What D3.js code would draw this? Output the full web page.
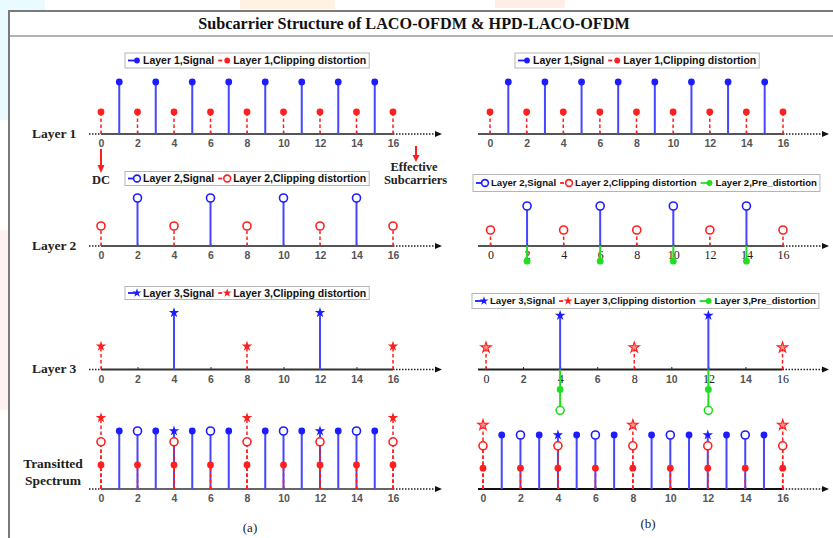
<!DOCTYPE html>
<html>
<head>
<meta charset="utf-8">
<script src="https://cdn.jsdelivr.net/npm/d3@7"></script>
<style>
  body { margin: 0; background: #fff; }
  svg { display: block; }
</style>
</head>
<body>
<svg id="chart" width="833" height="538"></svg>
<script>
// Subcarrier index ticks shown under every axis
const tickValues = [0, 2, 4, 6, 8, 10, 12, 14, 16];

// Subcarriers occupied by each layer
const layer1SignalIdx = [1, 3, 5, 7, 9, 11, 13, 15];
const layer1ClipIdx   = [0, 2, 4, 6, 8, 10, 12, 14, 16];
const layer2SignalIdx = [2, 6, 10, 14];
const layer2ClipIdx   = [0, 4, 8, 12, 16];
const layer3SignalIdx = [4, 12];
const layer3ClipIdx   = [0, 8, 16];

// LACO-OFDM amplitudes (arbitrary units), layers 1..3
const lacoSignalAmp = [6.5, 6.0, 7.1];
const lacoClipAmp   = [2.75, 2.5, 2.9];
// LACO-OFDM transmitted spectrum: common signal height, clipping height per layer
const lacoSpectrumSignal = 7.25;
const lacoSpectrumClip   = [3.0, 5.9, 8.9];

// HPD-LACO-OFDM amplitudes, layers 1..3
const hpdSignalAmp = [6.5, 5.0, 6.75];
const hpdClipAmp   = [2.75, 2.0, 2.75];
// pre-distortion (negative = below the axis) for layers 2 and 3
const hpdPreAmp = [-1.9, -2.5];
const hpdLayer3PreEnd = -5.1;
const hpdSpectrumSignal = 6.75;
const hpdSpectrumClip   = [2.6, 5.4, 8.0];

const layerNames = ["Layer 1", "Layer 2", "Layer 3"];
const rowLabels = [["Layer 1"], ["Layer 2"], ["Layer 3"], ["Transitted", "Spectrum"]];
const titleText = "Subcarrier Structure of LACO-OFDM & HPD-LACO-OFDM";

const BLUE = "#1c1cff", BLUE_STEM = "#4646ff", RED = "#ff1f1f", GREEN = "#22dd22";
const SANS = "'Liberation Sans', Arial, sans-serif";
const SERIF = "'Liberation Serif', 'Times New Roman', serif";

const svg = d3.select("#chart");
svg.append("rect").attr("width", 833).attr("height", 538).attr("fill", "#fff");

// faint background tint around the frame
[[0, 0, 45, 10, "#e9fbff"], [0, 10, 8, 110, "#eafbff"], [240, 0, 95, 9, "#fff2e4"],
 [495, 0, 70, 8, "#ffeee6"], [0, 230, 8, 180, "#fff0f2"]].forEach(([x, y, w, h, c]) =>
  svg.append("rect").attr("x", x).attr("y", y).attr("width", w).attr("height", h).attr("fill", c));

// frame and title bar
svg.append("line").attr("x1", 9).attr("x2", 833).attr("y1", 11).attr("y2", 11)
  .attr("stroke", "#7a7a7a").attr("stroke-width", 2);
svg.append("line").attr("x1", 9).attr("x2", 833).attr("y1", 36).attr("y2", 36)
  .attr("stroke", "#9a9a9a").attr("stroke-width", 1.5);
svg.append("line").attr("x1", 9).attr("x2", 9).attr("y1", 10).attr("y2", 538)
  .attr("stroke", "#7a7a7a").attr("stroke-width", 2);
svg.append("text").attr("x", 414).attr("y", 23.5).attr("dy", "0.35em")
  .attr("text-anchor", "middle").attr("font-family", SERIF).attr("font-weight", "bold")
  .attr("font-size", 16.2).attr("fill", "#111").text(titleText);

// ---------- helpers ----------
function marker(g, type, x, y, color, small) {
  const k = small ? 0.85 : 1;
  if (type === "dot") {
    g.append("circle").attr("cx", x).attr("cy", y).attr("r", 3.4 * k).attr("fill", color);
  } else if (type === "ring") {
    g.append("circle").attr("cx", x).attr("cy", y).attr("r", 4 * k)
      .attr("fill", "#fff").attr("stroke", color).attr("stroke-width", 1.6);
  } else if (type === "star") {
    g.append("path").attr("d", d3.symbol(d3.symbolStar, 34 * k * k)())
      .attr("transform", `translate(${x},${y})`).attr("fill", color);
  } else if (type === "starOpen") {
    g.append("path").attr("d", d3.symbol(d3.symbolStar, 34 * k * k)())
      .attr("transform", `translate(${x},${y})`).attr("fill", "#ff8a8a")
      .attr("stroke", color).attr("stroke-width", 1.1);
  }
}

function stem(g, x, y, i, amp, color, dashed, from) {
  g.append("line").attr("x1", x(i)).attr("x2", x(i))
    .attr("y1", y(from || 0)).attr("y2", y(amp))
    .attr("stroke", color).attr("stroke-width", dashed ? 1.5 : 2)
    .attr("stroke-dasharray", dashed ? "3.5,2.5" : null);
}

function arrowHead(g, tipX, tipY, dir, color, len, half) {
  const p = dir === "right"
    ? [[tipX, tipY], [tipX - len, tipY - half], [tipX - len, tipY + half]]
    : [[tipX, tipY], [tipX - half, tipY - len], [tipX + half, tipY - len]];
  g.append("path").attr("d", d3.line()(p) + "Z").attr("fill", color);
}

function drawAxis(g, x, axisY, side, axisColor, labelFont) {
  if (side === "left") {
    g.append("line").attr("x1", x(0) - 12).attr("x2", x(0)).attr("y1", axisY).attr("y2", axisY)
      .attr("stroke", "#222").attr("stroke-width", 1.3).attr("stroke-dasharray", "1.5,1.5");
    g.append("line").attr("x1", x(0)).attr("x2", x(16)).attr("y1", axisY).attr("y2", axisY)
      .attr("stroke", axisColor).attr("stroke-width", 2.2);
    g.append("line").attr("x1", x(16)).attr("x2", 435).attr("y1", axisY).attr("y2", axisY)
      .attr("stroke", "#222").attr("stroke-width", 1.3).attr("stroke-dasharray", "1.5,1.5");
    arrowHead(g, 442, axisY, "right", "#111", 7, 3);
  } else {
    g.append("line").attr("x1", 478).attr("x2", x(16)).attr("y1", axisY).attr("y2", axisY)
      .attr("stroke", axisColor).attr("stroke-width", 2.2);
    g.append("line").attr("x1", x(16)).attr("x2", 822).attr("y1", axisY).attr("y2", axisY)
      .attr("stroke", "#222").attr("stroke-width", 1.3).attr("stroke-dasharray", "1.5,1.5");
    arrowHead(g, 829, axisY, "right", "#111", 7, 3);
  }
  const ax = g.append("g").attr("transform", `translate(0,${axisY})`)
    .call(d3.axisBottom(x).tickValues(tickValues).tickSizeInner(-2.5).tickSizeOuter(0).tickPadding(6));
  ax.select(".domain").remove();
  ax.selectAll(".tick line").attr("stroke", axisColor).attr("stroke-width", 1);
  ax.selectAll(".tick text").each(function (d) {
    const f = labelFont(d);
    d3.select(this).attr("font-family", f.serif ? SERIF : SANS)
      .attr("font-weight", f.serif ? "normal" : "bold")
      .attr("font-size", f.serif ? 12 : 10.5)
      .attr("fill", f.serif ? "#222" : "#555")
      .attr("dy", f.serif ? "0.62em" : "0.71em");
  });
}

function legend(x0, cy, h, fontSize, entries) {
  const g = svg.append("g");
  const box = g.append("rect").attr("fill", "#fff").attr("stroke", "#b5b5b5").attr("stroke-width", 1);
  let cx = x0 + 3;
  entries.forEach(e => {
    g.append("line").attr("x1", cx).attr("x2", cx + (e.dashed ? 4 : 9)).attr("y1", cy).attr("y2", cy)
      .attr("stroke", e.color).attr("stroke-width", 1.8);
    marker(g, e.marker, cx + 9, cy, e.color, true);
    const t = g.append("text").attr("x", cx + 15).attr("y", cy).attr("dy", "0.35em")
      .attr("font-family", SANS).attr("font-weight", "bold").attr("font-size", fontSize)
      .attr("fill", "#111").text(e.label);
    cx += 15 + t.node().getComputedTextLength() + 4;
  });
  box.attr("x", x0).attr("y", cy - h / 2).attr("width", cx - x0 - 1).attr("height", h);
}

const sansAll = () => ({ serif: false });
const serifAll = () => ({ serif: true });
const serifMultiplesOf4 = d => ({ serif: d % 4 === 0 });

// row baselines
const rowY = [134, 246, 369.5, 489];
const yFor = axisY => d3.scaleLinear().domain([0, 10]).range([axisY, axisY - 80]);
const xFor = (a, b) => d3.scaleLinear().domain([0, 16]).range([a, b]);

// ---------- row labels ----------
rowLabels.forEach((lines, r) => {
  const cy = r < 3 ? rowY[r] - 1 : 463;
  lines.forEach((s, j) => {
    svg.append("text").attr("x", r < 3 ? 32 : 53).attr("y", cy + j * 17.5).attr("dy", "0.35em")
      .attr("text-anchor", r < 3 ? "start" : "middle")
      .attr("font-family", SERIF).attr("font-weight", "bold").attr("font-size", 13.5)
      .attr("fill", "#222").text(s);
  });
});

// ---------- (a) LACO-OFDM ----------
const markerOfLayer = ["dot", "ring", "star"];
const signalIdx = [layer1SignalIdx, layer2SignalIdx, layer3SignalIdx];
const clipIdx = [layer1ClipIdx, layer2ClipIdx, layer3ClipIdx];

[0, 1, 2].forEach(l => {
  const g = svg.append("g");
  const x = xFor(101, 393), y = yFor(rowY[l]);
  drawAxis(g, x, rowY[l], "left", l === 2 ? "#333" : "#555", sansAll);
  signalIdx[l].forEach(i => stem(g, x, y, i, lacoSignalAmp[l], BLUE_STEM, false));
  clipIdx[l].forEach(i => stem(g, x, y, i, lacoClipAmp[l], RED, true));
  signalIdx[l].forEach(i => marker(g, markerOfLayer[l], x(i), y(lacoSignalAmp[l]), BLUE));
  clipIdx[l].forEach(i => marker(g, markerOfLayer[l], x(i), y(lacoClipAmp[l]), RED));
});

// transmitted spectrum (a)
(function () {
  const g = svg.append("g");
  const x = xFor(101, 393), y = yFor(rowY[3]);
  drawAxis(g, x, rowY[3], "left", "#666", sansAll);
  signalIdx.forEach(idx => idx.forEach(i => stem(g, x, y, i, lacoSpectrumSignal, BLUE_STEM, false)));
  [2, 1, 0].forEach(l => clipIdx[l].forEach(i => stem(g, x, y, i, lacoSpectrumClip[l], RED, true)));
  signalIdx.forEach((idx, l) => idx.forEach(i => marker(g, markerOfLayer[l], x(i), y(lacoSpectrumSignal), BLUE)));
  clipIdx.forEach((idx, l) => idx.forEach(i => marker(g, markerOfLayer[l], x(i), y(lacoSpectrumClip[l]), RED)));
})();

// DC and effective-subcarrier pointers
(function () {
  const g = svg.append("g");
  g.append("line").attr("x1", 101).attr("x2", 101).attr("y1", 149).attr("y2", 166)
    .attr("stroke", RED).attr("stroke-width", 2);
  arrowHead(g, 101, 173, "down", RED, 8, 3.5);
  g.append("text").attr("x", 101).attr("y", 179.5).attr("dy", "0.35em").attr("text-anchor", "middle")
    .attr("font-family", SERIF).attr("font-weight", "bold").attr("font-size", 12.5).attr("fill", "#222").text("DC");
  g.append("line").attr("x1", 416).attr("x2", 416).attr("y1", 146).attr("y2", 156)
    .attr("stroke", RED).attr("stroke-width", 2);
  arrowHead(g, 416, 162, "down", RED, 7, 3.5);
  g.append("text").attr("x", 414).attr("y", 166.5).attr("dy", "0.35em").attr("text-anchor", "middle")
    .attr("font-family", SERIF).attr("font-weight", "bold").attr("font-size", 12.5).attr("fill", "#222").text("Effective");
  g.append("text").attr("x", 415.5).attr("y", 180).attr("dy", "0.35em").attr("text-anchor", "middle")
    .attr("font-family", SERIF).attr("font-weight", "bold").attr("font-size", 12.5).attr("fill", "#222").text("Subcarriers");
})();

// ---------- (b) HPD-LACO-OFDM ----------
const hpdX = [xFor(490, 783), xFor(490.5, 783), xFor(486, 782.5)];
const hpdTickFont = [sansAll, serifAll, serifMultiplesOf4];
const hpdClipMarker = ["dot", "ring", "starOpen"];

[0, 1, 2].forEach(l => {
  const g = svg.append("g");
  const x = hpdX[l], y = yFor(rowY[l]);
  drawAxis(g, x, rowY[l], "right", l === 2 ? "#222" : "#555", hpdTickFont[l]);
  signalIdx[l].forEach(i => stem(g, x, y, i, hpdSignalAmp[l], BLUE_STEM, false));
  clipIdx[l].forEach(i => stem(g, x, y, i, hpdClipAmp[l], RED, true));
  if (l === 1) {
    signalIdx[l].forEach(i => {
      stem(g, x, y, i, hpdPreAmp[0], GREEN, false);
      marker(g, "dot", x(i), y(hpdPreAmp[0]), GREEN);
    });
  }
  if (l === 2) {
    signalIdx[l].forEach(i => {
      stem(g, x, y, i, hpdLayer3PreEnd, GREEN, false);
      marker(g, "dot", x(i), y(hpdPreAmp[1]), GREEN);
      marker(g, "ring", x(i), y(hpdLayer3PreEnd), GREEN);
    });
  }
  signalIdx[l].forEach(i => marker(g, markerOfLayer[l], x(i), y(hpdSignalAmp[l]), BLUE));
  clipIdx[l].forEach(i => marker(g, hpdClipMarker[l], x(i), y(hpdClipAmp[l]), RED));
});

// transmitted spectrum (b)
(function () {
  const g = svg.append("g");
  const x = xFor(483, 782.7), y = yFor(rowY[3]);
  drawAxis(g, x, rowY[3], "right", "#111", sansAll);
  signalIdx.forEach(idx => idx.forEach(i => stem(g, x, y, i, hpdSpectrumSignal, BLUE_STEM, false)));
  [2, 1, 0].forEach(l => clipIdx[l].forEach(i => stem(g, x, y, i, hpdSpectrumClip[l], RED, true)));
  signalIdx.forEach((idx, l) => idx.forEach(i => marker(g, markerOfLayer[l], x(i), y(hpdSpectrumSignal), BLUE)));
  clipIdx.forEach((idx, l) => idx.forEach(i => marker(g, hpdClipMarker[l], x(i), y(hpdSpectrumClip[l]), RED)));
})();

// ---------- legends ----------
const entriesFor = (l, withPre) => {
  const e = [
    { label: `${layerNames[l]},Signal`, color: BLUE, marker: markerOfLayer[l], dashed: false },
    { label: `${layerNames[l]},Clipping distortion`, color: RED, marker: markerOfLayer[l], dashed: true }
  ];
  if (withPre) e.push({ label: `${layerNames[l]},Pre_distortion`, color: GREEN, marker: "dot", dashed: false });
  return e;
};
legend(125, 60.5, 15, 10.5, entriesFor(0, false));
legend(125, 178.5, 14, 10.5, entriesFor(1, false));
legend(125, 293, 13, 10.5, entriesFor(2, false));
legend(515, 60.5, 15, 10.5, entriesFor(0, false));
legend(473, 183, 17, 9.6, entriesFor(1, true));
legend(472, 301, 15, 9.6, entriesFor(2, true));

// sub-figure captions
svg.append("text").attr("x", 250).attr("y", 527).attr("dy", "0.35em").attr("text-anchor", "middle")
  .attr("font-family", SERIF).attr("font-size", 13).attr("fill", "#222").text("(a)");
svg.append("text").attr("x", 648).attr("y", 523).attr("dy", "0.35em").attr("text-anchor", "middle")
  .attr("font-family", SERIF).attr("font-size", 13).attr("fill", "#222").text("(b)");
</script>
</body>
</html>
